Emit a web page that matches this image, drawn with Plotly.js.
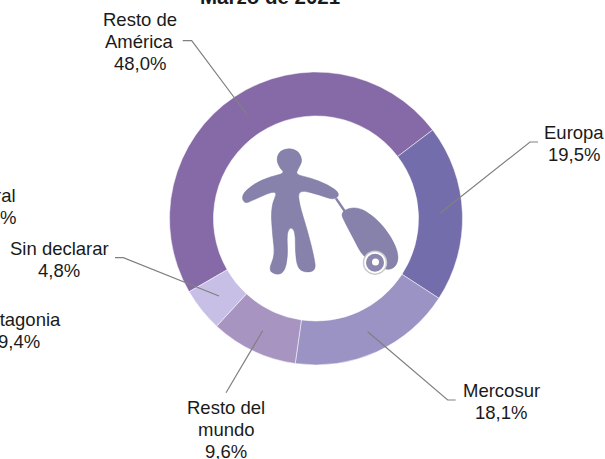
<!DOCTYPE html>
<html>
<head>
<meta charset="utf-8">
<script src="https://cdn.plot.ly/plotly-3.0.1.min.js"></script>
<style>html,body{margin:0;padding:0;background:#fff;overflow:hidden}</style>
</head>
<body>
<div id="chart" style="width:605px;height:459px"></div>
<script>
const categories = ["Resto de<br>América", "Europa", "Mercosur", "Resto del<br>mundo", "Sin declarar"];
const values = [48.0, 19.5, 18.1, 9.6, 4.8];
const sliceColors = ["#866aa7", "#736dab", "#9b93c4", "#a794c1", "#c8bfe7"];
const labelCenters = [[139.5, 41.5], [574, 143], [501, 401], [226, 429], [59, 259]];
const leaders = [
  [[182.7, 40.7], [191.7, 40.7], [247.3, 115]],
  [[538, 142], [530, 142], [440, 213.3]],
  [[455.7, 400], [447.7, 400], [367.7, 331.7]],
  [[226, 392.7], [262.7, 330.7]],
  [[115, 257.7], [123.3, 257.7], [219, 296]]
];
const W = 605, H = 459;
const cx = 316, cy = 218.5, R = 146.5;
const LINE = 22;
const px = x => x / W;
const py = y => 1 - y / H;
const fmt = v => v.toFixed(1).replace(".", ",") + "%";
const font = {family: "Liberation Sans, Arial, sans-serif", size: 18.5, color: "#1a1a1a"};
const titleFont = {family: "Liberation Sans, Arial, sans-serif", size: 20.5, color: "#1a1a1a"};

/* Traveller icon outline (zoomed-crop coordinates, origin 230,140, 3x) */
const bodyOutline = [[165,100],[120,110],[70,132],[34,165],[43,192],[70,180],[147,146],[122,200],[128,290],[135,345],[116,388],[133,404],[162,400],[174,350],[170,280],[182,260],[196,275],[196,340],[203,385],[225,398],[258,392],[252,350],[232,270],[207,190],[205,148],[270,165],[314,181],[331,160],[292,133],[240,113],[197,104],[205,85],[218,62],[205,33],[178,24],[148,33],[139,60],[150,85]];
const caseOutline = [[330,215],[380,198],[437,232],[484,290],[507,345],[498,382],[465,392],[398,350],[373,300],[346,250]];
const iconX = x => px(230 + x / 3);
const iconY = y => py(140 + y / 3);
function smoothPath(pts) {
  const mid = (a, b) => [(a[0] + b[0]) / 2, (a[1] + b[1]) / 2];
  const n = pts.length;
  const s = mid(pts[n - 1], pts[0]);
  let d = `M${iconX(s[0])},${iconY(s[1])}`;
  pts.forEach((p, i) => {
    const m = mid(p, pts[(i + 1) % n]);
    d += ` Q${iconX(p[0])},${iconY(p[1])} ${iconX(m[0])},${iconY(m[1])}`;
  });
  return d + " Z";
}
const iconColor = "#8682ab";
const circle = (x, y, r, fill, line) => ({
  type: "circle", xref: "paper", yref: "paper",
  x0: px(x - r), x1: px(x + r), y0: py(y + r), y1: py(y - r),
  fillcolor: fill, line: line || {width: 0}
});
const shapes = [];
leaders.forEach(l => {
  shapes.push({
    type: "path", xref: "paper", yref: "paper",
    path: l.map((p, i) => (i ? "L" : "M") + px(p[0]) + "," + py(p[1])).join(" "),
    line: {color: "#808080", width: 1.2}
  });
});
shapes.push({type: "path", xref: "paper", yref: "paper", path: smoothPath(bodyOutline), fillcolor: iconColor, line: {color: "#77739c", width: 0.5}});
shapes.push({type: "path", xref: "paper", yref: "paper", path: smoothPath(caseOutline), fillcolor: iconColor, line: {color: "#77739c", width: 0.5}});
shapes.push({type: "line", xref: "paper", yref: "paper", x0: iconX(318), y0: iconY(175), x1: iconX(345), y1: iconY(215), line: {color: iconColor, width: 2.5}});
shapes.push(circle(375, 262.7, 11.5, "#ffffff", {color: "#c9c9cf", width: 1.5}));
shapes.push(circle(375, 262.7, 9, "#8a86ad"));
shapes.push(circle(375.5, 262, 3.5, "#ffffff"));

/* Each label line is its own annotation so the line spacing can match the reference */
const annotations = [];
function addLabel(lines, x, yMid, xanchor, fnt, bold) {
  lines.forEach((t, i) => {
    annotations.push({
      xref: "paper", yref: "paper", x: px(x),
      y: py(yMid + (i - (lines.length - 1) / 2) * LINE),
      xanchor: xanchor, yanchor: "middle", showarrow: false,
      text: bold ? "<b>" + t + "</b>" : t, font: fnt
    });
  });
}
categories.forEach((c, i) => addLabel([...c.split("<br>"), fmt(values[i])], labelCenters[i][0], labelCenters[i][1], "center", font));
addLabel(["Patagonia", "9,4%"], 19, 330, "center", font);
addLabel(["ral", "%"], 17.5, 206.5, "right", font);
addLabel(["Marzo de 2021"], 270, -4, "center", titleFont, true);

Plotly.newPlot("chart", [{
  type: "pie",
  labels: categories,
  values: values,
  hole: 0.7,
  sort: false,
  direction: "clockwise",
  rotation: 240,
  textinfo: "none",
  marker: {colors: sliceColors, line: {color: "#ffffff", width: 0.5}},
  domain: {x: [px(cx - R), px(cx + R)], y: [py(cy + R), py(cy - R)]}
}], {
  width: W, height: H,
  margin: {l: 0, r: 0, t: 0, b: 0},
  paper_bgcolor: "#ffffff",
  showlegend: false,
  shapes: shapes,
  annotations: annotations
}, {displayModeBar: false, staticPlot: true});
</script>
</body>
</html>
